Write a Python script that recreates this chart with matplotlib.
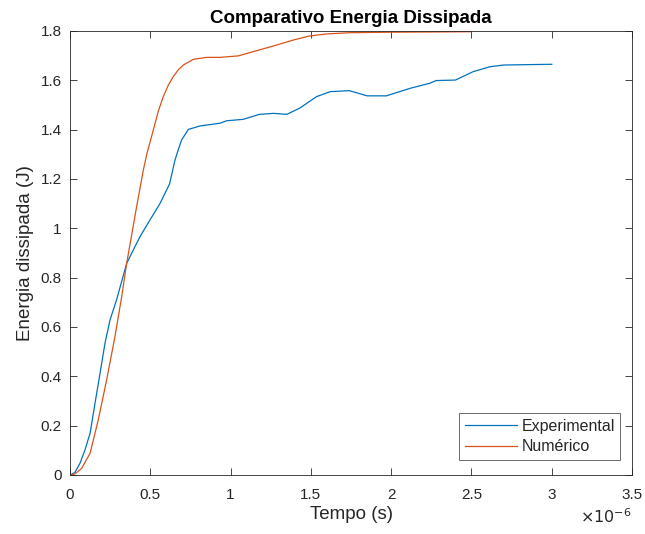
import matplotlib
matplotlib.use("Agg")
import matplotlib.pyplot as plt
from matplotlib.ticker import FormatStrFormatter, MultipleLocator

# tempo em microssegundos (eixo mostra x10^-6)
exp_t = [0, 0.03, 0.062, 0.093, 0.125, 0.156, 0.187, 0.218, 0.249, 0.29,
         0.353, 0.40, 0.436, 0.498, 0.56, 0.62, 0.654, 0.674, 0.695, 0.737,
         0.81, 0.934, 0.976, 1.048, 1.08, 1.18, 1.266, 1.35, 1.43, 1.536,
         1.62, 1.74, 1.85, 1.97, 2.12, 2.24, 2.28, 2.40, 2.51, 2.615,
         2.70, 3.0]
exp_e = [0, 0.01, 0.047, 0.101, 0.169, 0.291, 0.412, 0.534, 0.628, 0.71,
         0.858, 0.92, 0.966, 1.034, 1.10, 1.18, 1.277, 1.318, 1.358, 1.401,
         1.415, 1.426, 1.436, 1.44, 1.442, 1.462, 1.466, 1.462, 1.487, 1.534,
         1.554, 1.558, 1.537, 1.537, 1.568, 1.588, 1.599, 1.601, 1.635, 1.655,
         1.662, 1.665]

num_t = [0, 0.03, 0.073, 0.125, 0.176, 0.228, 0.28, 0.322, 0.353, 0.415,
         0.457, 0.478, 0.519, 0.55, 0.581, 0.612, 0.643, 0.675, 0.706, 0.768,
         0.851, 0.934, 1.048, 1.14, 1.287, 1.40, 1.494, 1.60, 1.74, 2.0, 2.5]
num_e = [0, 0.004, 0.027, 0.088, 0.223, 0.385, 0.561, 0.723, 0.858, 1.088,
         1.237, 1.30, 1.399, 1.475, 1.534, 1.58, 1.615, 1.643, 1.662, 1.685,
         1.693, 1.693, 1.699, 1.716, 1.743, 1.765, 1.78, 1.788, 1.793, 1.795,
         1.797]

plt.rcParams["font.family"] = ["Liberation Sans", "DejaVu Sans"]
axis_color = "#262626"

fig = plt.figure(figsize=(6.45, 5.34), dpi=100)
ax = fig.add_axes([0.1085, 0.1105, 0.8715, 0.8315])

ax.plot(exp_t, exp_e, color="#0072BD", linewidth=0.9, label="Experimental")
ax.plot(num_t, num_e, color="#D95319", linewidth=0.9, label="Numérico")

ax.set_xlim(0, 3.5)
ax.set_ylim(0, 1.8)
ax.xaxis.set_major_locator(MultipleLocator(0.5))
ax.yaxis.set_major_locator(MultipleLocator(0.2))
ax.xaxis.set_major_formatter(FormatStrFormatter("%g"))
ax.yaxis.set_major_formatter(FormatStrFormatter("%g"))

ax.tick_params(direction="in", length=5, width=0.6, colors=axis_color,
               labelsize=11, top=True, right=True)
ax.tick_params(axis="x", pad=9.5)
ax.tick_params(axis="y", pad=6)
for s in ax.spines.values():
    s.set_color(axis_color)
    s.set_linewidth(0.6)

ax.set_title("Comparativo Energia Dissipada", fontsize=13.5, fontweight="bold",
             color="black", pad=6)
ax.set_xlabel("Tempo (s)", fontsize=13.5, color=axis_color, labelpad=3)
ax.set_ylabel("Energia dissipada (J)", fontsize=13.5, color=axis_color,
              labelpad=5)
ax.text(1.0, -0.072, r"$\times10^{-6}$", transform=ax.transAxes,
        ha="right", va="top", fontsize=11.5, color=axis_color)

leg = ax.legend(loc="lower right", bbox_to_anchor=(0.979, 0.034),
                fontsize=11.5, frameon=True, fancybox=False, handlelength=3.3,
                handletextpad=0.25, borderpad=0.35, labelspacing=0.35,
                borderaxespad=0)
leg.get_frame().set_edgecolor(axis_color)
leg.get_frame().set_linewidth(0.6)
for t in leg.get_texts():
    t.set_color(axis_color)

fig.savefig("out.png", dpi=100, facecolor="white")
